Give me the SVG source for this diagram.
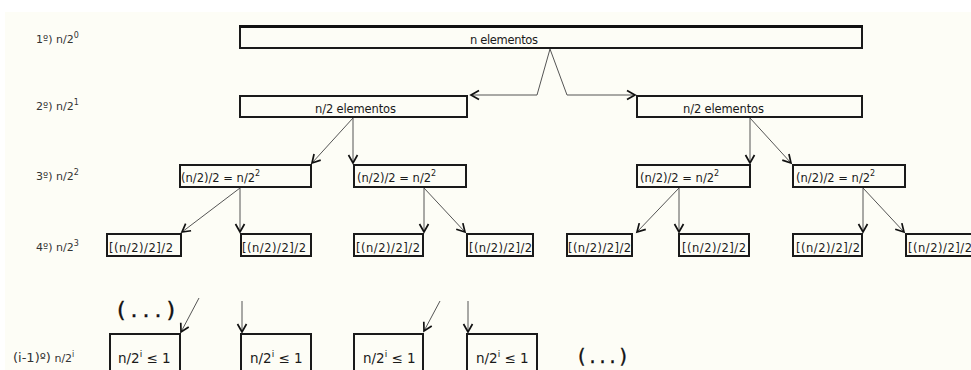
<svg xmlns="http://www.w3.org/2000/svg" width="971" height="370" viewBox="0 0 971 370">
  <defs>
    <marker id="head" markerUnits="userSpaceOnUse" markerWidth="12" markerHeight="12" viewBox="-9 -6 12 12" refX="0" refY="0" orient="auto">
      <path d="M-8,-4.5 L0,0 L-8,4.5" fill="none" stroke="#111" stroke-width="1.7"/>
    </marker>
    <style>
      .box { fill: none; stroke: #1a1a1a; stroke-width: 2; }
      .t { font-family: "DejaVu Sans", Verdana, sans-serif; font-size: 11.5px; fill: #1a1a1a; }
      .lvl { font-family: "DejaVu Sans", Verdana, sans-serif; font-size: 11px; fill: #333; }
      .leaf { font-family: "DejaVu Sans", Verdana, sans-serif; font-size: 13.5px; fill: #1a1a1a; }
      .dots { font-family: "DejaVu Sans", Verdana, sans-serif; fill: #111; stroke: #111; stroke-width: 0.4; }
      .sup { font-size: 8px; }
      .link { fill: none; stroke: #555; stroke-width: 1; marker-end: url(#head); }
    </style>
  </defs>

  <!-- paper -->
  <rect x="0" y="0" width="971" height="370" fill="#ffffff"/>
  <rect x="5" y="12" width="966" height="358" fill="#fdfdf6"/>

  <!-- level captions -->
  <g id="levels">
    <text class="lvl" x="36" y="43">1º) n/2<tspan class="sup" dy="-5">0</tspan></text>
    <text class="lvl" x="36" y="110">2º) n/2<tspan class="sup" dy="-5">1</tspan></text>
    <text class="lvl" x="36" y="180">3º) n/2<tspan class="sup" dy="-5">2</tspan></text>
    <text class="lvl" x="36" y="251">4º) n/2<tspan class="sup" dy="-5">3</tspan></text>
    <text class="lvl" x="13" y="362"><tspan font-size="13px">(i-1)º)</tspan> n/2<tspan class="sup" dy="-5">i</tspan></text>
  </g>

  <!-- level 1 -->
  <g id="n-root">
    <rect class="box" x="240" y="27" width="622" height="21"/>
    <line x1="239" y1="26.5" x2="863" y2="26.5" stroke="#111" stroke-width="3"/>
    <text class="t" x="470" y="44" textLength="68">n elementos</text>
  </g>

  <!-- level 2 -->
  <g id="n-half-left">
    <rect class="box" x="240" y="96" width="227" height="21"/>
    <text class="t" x="315" y="113" textLength="81">n/2 elementos</text>
  </g>
  <g id="n-half-right">
    <rect class="box" x="637" y="96" width="225" height="21"/>
    <text class="t" x="683" y="113" textLength="81">n/2 elementos</text>
  </g>

  <!-- level 3 -->
  <g id="q1">
    <rect class="box" x="180" y="165" width="131" height="22"/>
    <text class="t" x="181" y="182">(n/2)/2 = n/2<tspan class="sup" font-size="9px" dy="-6">2</tspan></text>
  </g>
  <g id="q2">
    <rect class="box" x="354" y="165" width="112" height="22"/>
    <text class="t" x="357" y="182">(n/2)/2 = n/2<tspan class="sup" font-size="9px" dy="-6">2</tspan></text>
  </g>
  <g id="q3">
    <rect class="box" x="637" y="165" width="113" height="22"/>
    <text class="t" x="640" y="182">(n/2)/2 = n/2<tspan class="sup" font-size="9px" dy="-6">2</tspan></text>
  </g>
  <g id="q4">
    <rect class="box" x="793" y="165" width="112" height="22"/>
    <text class="t" x="796" y="182">(n/2)/2 = n/2<tspan class="sup" font-size="9px" dy="-6">2</tspan></text>
  </g>

  <!-- level 4 -->
  <g id="e1"><rect class="box" x="107" y="234" width="74" height="22"/><text class="t" x="109" y="252" textLength="64">[(n/2)/2]/2</text></g>
  <g id="e2"><rect class="box" x="241" y="234" width="70" height="22"/><text class="t" x="242" y="252" textLength="64">[(n/2)/2]/2</text></g>
  <g id="e3"><rect class="box" x="354" y="234" width="69" height="22"/><text class="t" x="356" y="252" textLength="64">[(n/2)/2]/2</text></g>
  <g id="e4"><rect class="box" x="467" y="234" width="66" height="22"/><text class="t" x="469" y="252" textLength="63">[(n/2)/2]/2</text></g>
  <g id="e5"><rect class="box" x="567" y="234" width="65" height="22"/><text class="t" x="568" y="252" textLength="63">[(n/2)/2]/2</text></g>
  <g id="e6"><rect class="box" x="679" y="234" width="70" height="22"/><text class="t" x="682" y="252" textLength="64">[(n/2)/2]/2</text></g>
  <g id="e7"><rect class="box" x="793" y="234" width="69" height="22"/><text class="t" x="796" y="252" textLength="64">[(n/2)/2]/2</text></g>
  <g id="e8"><rect class="box" x="906" y="234" width="70" height="22"/><text class="t" x="908" y="252" textLength="64">[(n/2)/2]/2</text></g>

  <!-- last level -->
  <g id="f1"><rect class="box" x="110" y="334" width="70" height="40"/><text class="leaf" x="118" y="363">n/2<tspan font-size="9px" dy="-6">i</tspan><tspan dy="6"> ≤ 1</tspan></text></g>
  <g id="f2"><rect class="box" x="241" y="334" width="70" height="40"/><text class="leaf" x="250" y="363">n/2<tspan font-size="9px" dy="-6">i</tspan><tspan dy="6"> ≤ 1</tspan></text></g>
  <g id="f3"><rect class="box" x="354" y="334" width="69" height="40"/><text class="leaf" x="363" y="363">n/2<tspan font-size="9px" dy="-6">i</tspan><tspan dy="6"> ≤ 1</tspan></text></g>
  <g id="f4"><rect class="box" x="467" y="334" width="70" height="40"/><text class="leaf" x="476" y="363">n/2<tspan font-size="9px" dy="-6">i</tspan><tspan dy="6"> ≤ 1</tspan></text></g>

  <!-- ellipses -->
  <g id="more-left"><text class="dots" x="117" y="317" font-size="22px" textLength="58">( . . . )</text></g>
  <g id="more-right"><text class="dots" x="578" y="363" font-size="19px" textLength="49">( . . . )</text></g>

  <!-- connectors -->
  <g id="connectors">
    <polyline class="link" points="550,49 537,95 471,95"/>
    <polyline class="link" points="550,49 567,95 635,95"/>

    <line class="link" x1="353" y1="118" x2="312" y2="163"/>
    <line class="link" x1="353" y1="118" x2="353" y2="163"/>
    <line class="link" x1="750" y1="118" x2="750" y2="163"/>
    <line class="link" x1="750" y1="118" x2="791" y2="163"/>

    <line class="link" x1="240" y1="188" x2="182" y2="232"/>
    <line class="link" x1="240" y1="188" x2="240" y2="232"/>
    <line class="link" x1="424" y1="188" x2="424" y2="232"/>
    <line class="link" x1="424" y1="188" x2="465" y2="232"/>
    <line class="link" x1="679" y1="188" x2="637" y2="232"/>
    <line class="link" x1="679" y1="188" x2="679" y2="232"/>
    <line class="link" x1="863" y1="188" x2="863" y2="232"/>
    <line class="link" x1="863" y1="188" x2="904" y2="232"/>

    <line class="link" x1="199" y1="298" x2="181" y2="332"/>
    <line class="link" x1="242" y1="301" x2="242" y2="332"/>
    <line class="link" x1="440" y1="301" x2="424" y2="331"/>
    <line class="link" x1="468" y1="301" x2="468" y2="332"/>
  </g>
</svg>
